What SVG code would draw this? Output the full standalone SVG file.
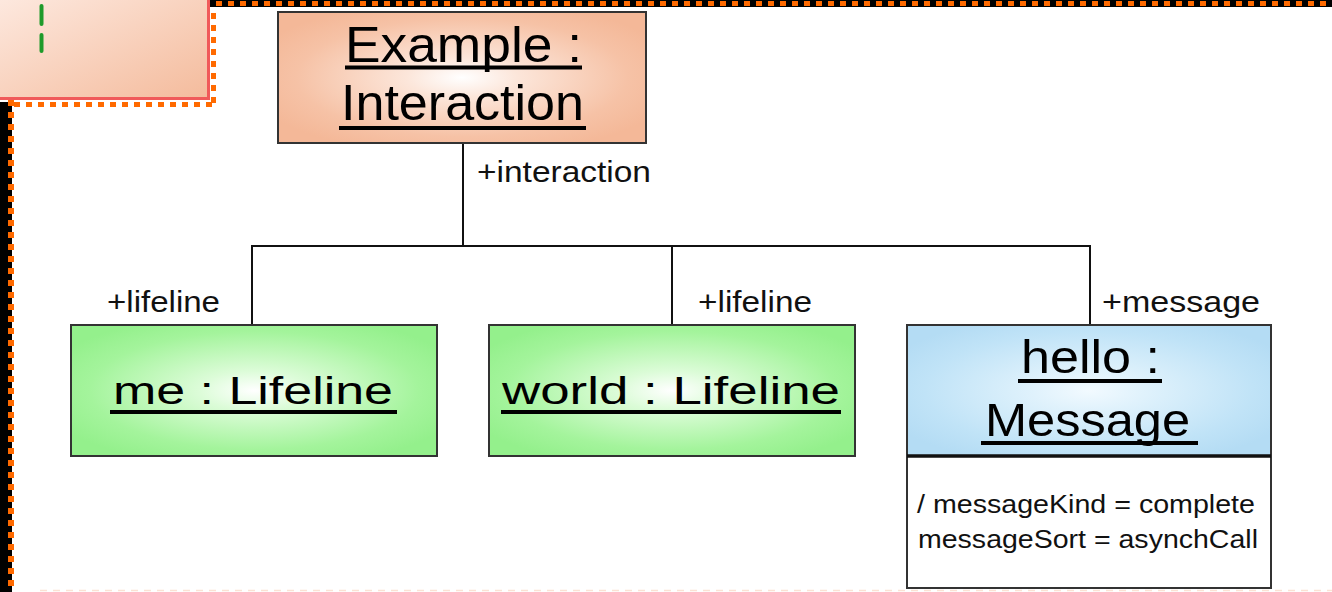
<svg xmlns="http://www.w3.org/2000/svg" width="1332" height="592" viewBox="0 0 1332 592">
<defs>
<radialGradient id="gSalmon" cx="50%" cy="50%" r="60%">
<stop offset="0" stop-color="#ffffff"/>
<stop offset="0.25" stop-color="#fce6da"/>
<stop offset="0.75" stop-color="#f6c2a6"/>
<stop offset="1" stop-color="#f4b898"/>
</radialGradient>
<radialGradient id="gGreen" cx="50%" cy="50%" r="60%">
<stop offset="0" stop-color="#ffffff"/>
<stop offset="0.25" stop-color="#dcfcd8"/>
<stop offset="0.75" stop-color="#a4f49c"/>
<stop offset="1" stop-color="#94f08c"/>
</radialGradient>
<radialGradient id="gBlue" cx="50%" cy="50%" r="60%">
<stop offset="0" stop-color="#f2faff"/>
<stop offset="0.25" stop-color="#e0f2fc"/>
<stop offset="0.75" stop-color="#c0e3f7"/>
<stop offset="1" stop-color="#b4dcf4"/>
</radialGradient>
<linearGradient id="gCorner" x1="0" y1="0" x2="1" y2="1">
<stop offset="0" stop-color="#fde8de"/>
<stop offset="1" stop-color="#f4bb9c"/>
</linearGradient>
<style>
.node{stroke:#333333;stroke-width:2}
.title{font-family:"Liberation Sans",Arial,sans-serif;fill:#000;text-anchor:start}
.ul{stroke:#000;stroke-width:4}
.lbl{font-family:"Liberation Sans",Arial,sans-serif;font-size:29px;fill:#111}
.attr{font-family:"Liberation Sans",Arial,sans-serif;font-size:26px;fill:#111}
.conn{stroke:#111;stroke-width:2;fill:none}
.dots{stroke:#ff6a00;stroke-dasharray:6 6;fill:none}
</style>
</defs>
<rect x="0" y="0" width="1332" height="592" fill="#ffffff"/>

<g id="frame">
<rect x="0" y="0" width="208" height="99" fill="url(#gCorner)"/>
<line x1="208.5" y1="0" x2="208.5" y2="100" stroke="#f05a5a" stroke-width="3"/>
<line x1="0" y1="98.5" x2="210" y2="98.5" stroke="#f05a5a" stroke-width="3"/>
<line x1="41.5" y1="6" x2="41.5" y2="24" stroke="#1e9a2a" stroke-width="4" stroke-linecap="round"/>
<line x1="41.5" y1="35" x2="41.5" y2="51" stroke="#1e9a2a" stroke-width="4" stroke-linecap="round"/>
<line class="dots" x1="2" y1="104.5" x2="214" y2="104.5" stroke-width="5"/>
<line class="dots" x1="213.5" y1="13" x2="213.5" y2="104" stroke-width="5"/>
<rect x="210" y="0" width="1122" height="7" fill="#000"/>
<line class="dots" x1="212" y1="3.5" x2="1332" y2="3.5" stroke-width="5" stroke-dashoffset="-4"/>
<rect x="0" y="102" width="12" height="490" fill="#000"/>
<line class="dots" x1="11" y1="100" x2="11" y2="592" stroke-width="6"/>
<line x1="40" y1="590.5" x2="1332" y2="590.5" stroke="#fbe2d4" stroke-width="1.5" stroke-dasharray="7 6"/>
</g>

<g id="connectors">
<polyline class="conn" points="463,143 463,246"/>
<polyline class="conn" points="252,325 252,246 1090,246 1090,325"/>
<polyline class="conn" points="672,246 672,325"/>
<text class="lbl" x="477" y="182" textLength="174" lengthAdjust="spacingAndGlyphs">+interaction</text>
<text class="lbl" x="107" y="312" textLength="113" lengthAdjust="spacingAndGlyphs">+lifeline</text>
<text class="lbl" x="698" y="312" textLength="114" lengthAdjust="spacingAndGlyphs">+lifeline</text>
<text class="lbl" x="1102" y="312" textLength="158" lengthAdjust="spacingAndGlyphs">+message</text>
</g>

<g id="node-example">
<rect class="node" x="278" y="12" width="368" height="131" fill="url(#gSalmon)"/>
<text class="title" x="345" y="62" font-size="50" textLength="237" lengthAdjust="spacingAndGlyphs">Example :</text>
<line class="ul" x1="345" y1="67.5" x2="582" y2="67.5" stroke-width="3"/>
<text class="title" x="341" y="120" font-size="50" textLength="243" lengthAdjust="spacingAndGlyphs">Interaction</text>
<line class="ul" x1="339" y1="128" x2="586" y2="128"/>
</g>

<g id="node-me">
<rect class="node" x="71" y="325" width="366" height="131" fill="url(#gGreen)"/>
<text class="title" x="113" y="404" font-size="39" textLength="280" lengthAdjust="spacingAndGlyphs">me : Lifeline</text>
<line class="ul" x1="110" y1="412" x2="397" y2="412"/>
</g>

<g id="node-world">
<rect class="node" x="489" y="325" width="366" height="131" fill="url(#gGreen)"/>
<text class="title" x="502" y="404" font-size="39" textLength="338" lengthAdjust="spacingAndGlyphs">world : Lifeline</text>
<line class="ul" x1="501" y1="412" x2="841" y2="412"/>
</g>

<g id="node-hello">
<rect class="node" x="907" y="325" width="364" height="131" fill="url(#gBlue)"/>
<rect class="node" x="907" y="456" width="364" height="132" fill="#ffffff"/>
<line x1="907" y1="456" x2="1271" y2="456" stroke="#111" stroke-width="3.5"/>
<text class="title" x="1021" y="373" font-size="46" textLength="139" lengthAdjust="spacingAndGlyphs">hello :</text>
<line class="ul" x1="1018" y1="381" x2="1162" y2="381" stroke-width="3"/>
<text class="title" x="985" y="436" font-size="46" textLength="205" lengthAdjust="spacingAndGlyphs">Message</text>
<line class="ul" x1="981" y1="443" x2="1198" y2="443" stroke-width="3"/>
<text class="attr" x="917" y="513" textLength="338" lengthAdjust="spacingAndGlyphs">/ messageKind = complete</text>
<text class="attr" x="918" y="548" textLength="340" lengthAdjust="spacingAndGlyphs">messageSort = asynchCall</text>
</g>
</svg>
